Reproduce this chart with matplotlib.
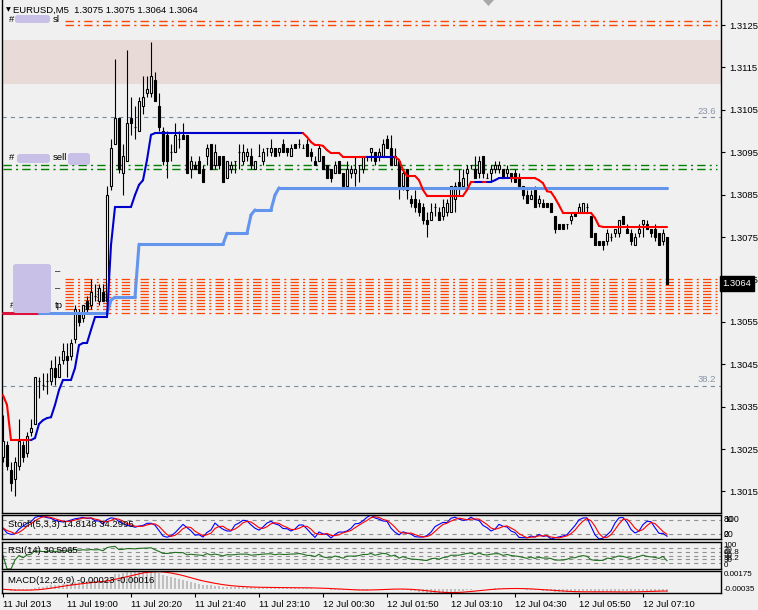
import numpy as np
import matplotlib
matplotlib.use("Agg")
import matplotlib.pyplot as plt
import matplotlib.transforms as mtransforms
from matplotlib.collections import LineCollection
from matplotlib.patches import FancyBboxPatch, Polygon

plt.rcParams['font.family'] = ['Liberation Sans', 'DejaVu Sans']
plt.rcParams['lines.scale_dashes'] = False

W, H = 758, 610
BG = '#F0F0F0'
FS = 6.8

# EURUSD M5 candles
opens = [1.3023, 1.3026, 1.3020, 1.3018, 1.3021, 1.3026, 1.3024, 1.3029, 1.3031, 1.3041,
         1.3040, 1.3041, 1.3041, 1.3044, 1.3042, 1.3046, 1.3047, 1.3047, 1.3051, 1.3057,
         1.3056, 1.3060, 1.3059, 1.3061, 1.3060, 1.3062, 1.3060, 1.3087, 1.3097, 1.3103,
         1.3090, 1.3093, 1.3103, 1.3101, 1.3100, 1.3106, 1.3109, 1.3109, 1.3112, 1.3106,
         1.3100, 1.3099, 1.3095, 1.3095, 1.3098, 1.3099, 1.3099, 1.3091, 1.3092, 1.3093,
         1.3091, 1.3094, 1.3097, 1.3092, 1.3094, 1.3094, 1.3089, 1.3091, 1.3093, 1.3095,
         1.3093, 1.3094, 1.3094, 1.3091, 1.3094, 1.3093, 1.3096, 1.3095, 1.3096, 1.3095,
         1.3097, 1.3096, 1.3094, 1.3097, 1.3097, 1.3096, 1.3097, 1.3095, 1.3093, 1.3093,
         1.3094, 1.3092, 1.3091, 1.3090, 1.3093, 1.3090, 1.3087, 1.3090, 1.3090, 1.3092,
         1.3091, 1.3094, 1.3095, 1.3095, 1.3094, 1.3094, 1.3098, 1.3096, 1.3092, 1.3093,
         1.3087, 1.3091, 1.3084, 1.3084, 1.3083, 1.3082, 1.3079, 1.3079, 1.3082, 1.3081,
         1.3080, 1.3081, 1.3081, 1.3084, 1.3088, 1.3087, 1.3090, 1.3092, 1.3091, 1.3090,
         1.3094, 1.3089, 1.3090, 1.3091, 1.3091, 1.3091, 1.3090, 1.3090, 1.3090, 1.3089,
         1.3087, 1.3085, 1.3084, 1.3086, 1.3083, 1.3083, 1.3083, 1.3083, 1.3080, 1.3078,
         1.3078, 1.3078, 1.3079, 1.3081, 1.3081, 1.3081, 1.3082, 1.3080, 1.3076, 1.3074,
         1.3074, 1.3074, 1.3075, 1.3076, 1.3076, 1.3080, 1.3077, 1.3076, 1.3073, 1.3076,
         1.3078, 1.3078, 1.3077, 1.3077, 1.3076, 1.3074, 1.3075]
highs = [1.3033, 1.3027, 1.3022, 1.3023, 1.3032, 1.3027, 1.3029, 1.3032, 1.3042, 1.3042,
         1.3043, 1.3043, 1.3046, 1.3047, 1.3047, 1.3050, 1.3050, 1.3051, 1.3059, 1.3058,
         1.3059, 1.3061, 1.3065, 1.3064, 1.3064, 1.3064, 1.3087, 1.3098, 1.3117, 1.3103,
         1.3097, 1.3119, 1.3108, 1.3106, 1.3108, 1.3113, 1.3113, 1.3121, 1.3114, 1.3109,
         1.3101, 1.3100, 1.3097, 1.3102, 1.3100, 1.3102, 1.3099, 1.3094, 1.3093, 1.3094,
         1.3092, 1.3097, 1.3097, 1.3097, 1.3094, 1.3094, 1.3093, 1.3093, 1.3093, 1.3097,
         1.3097, 1.3096, 1.3096, 1.3093, 1.3097, 1.3096, 1.3096, 1.3098, 1.3096, 1.3096,
         1.3098, 1.3096, 1.3097, 1.3097, 1.3098, 1.3097, 1.3098, 1.3096, 1.3094, 1.3097,
         1.3094, 1.3092, 1.3091, 1.3093, 1.3093, 1.3090, 1.3093, 1.3092, 1.3094, 1.3092,
         1.3094, 1.3094, 1.3096, 1.3095, 1.3096, 1.3098, 1.3099, 1.3099, 1.3096, 1.3093,
         1.3091, 1.3091, 1.3085, 1.3086, 1.3084, 1.3083, 1.3081, 1.3083, 1.3083, 1.3082,
         1.3084, 1.3084, 1.3087, 1.3088, 1.3091, 1.3091, 1.3092, 1.3092, 1.3094, 1.3094,
         1.3094, 1.3090, 1.3092, 1.3093, 1.3093, 1.3091, 1.3092, 1.3090, 1.3091, 1.3090,
         1.3087, 1.3086, 1.3086, 1.3087, 1.3085, 1.3084, 1.3083, 1.3083, 1.3080, 1.3078,
         1.3078, 1.3078, 1.3081, 1.3081, 1.3083, 1.3083, 1.3083, 1.3080, 1.3076, 1.3074,
         1.3074, 1.3077, 1.3076, 1.3077, 1.3079, 1.3080, 1.3078, 1.3077, 1.3076, 1.3078,
         1.3079, 1.3079, 1.3077, 1.3078, 1.3076, 1.3077, 1.3075]
lows = [1.3022, 1.3020, 1.3015, 1.3014, 1.3020, 1.3022, 1.3023, 1.3028, 1.3031, 1.3037,
        1.3039, 1.3038, 1.3040, 1.3040, 1.3042, 1.3045, 1.3042, 1.3046, 1.3050, 1.3054,
        1.3055, 1.3057, 1.3058, 1.3060, 1.3059, 1.3060, 1.3059, 1.3086, 1.3097, 1.3090,
        1.3085, 1.3093, 1.3099, 1.3098, 1.3100, 1.3104, 1.3108, 1.3108, 1.3107, 1.3100,
        1.3092, 1.3089, 1.3093, 1.3095, 1.3096, 1.3098, 1.3090, 1.3089, 1.3091, 1.3090,
        1.3088, 1.3092, 1.3091, 1.3091, 1.3091, 1.3088, 1.3089, 1.3090, 1.3090, 1.3091,
        1.3092, 1.3093, 1.3091, 1.3091, 1.3094, 1.3092, 1.3094, 1.3094, 1.3094, 1.3094,
        1.3095, 1.3094, 1.3094, 1.3096, 1.3096, 1.3096, 1.3094, 1.3093, 1.3092, 1.3093,
        1.3091, 1.3089, 1.3088, 1.3090, 1.3090, 1.3087, 1.3087, 1.3089, 1.3087, 1.3088,
        1.3090, 1.3093, 1.3093, 1.3092, 1.3093, 1.3094, 1.3096, 1.3092, 1.3092, 1.3084,
        1.3086, 1.3084, 1.3082, 1.3081, 1.3080, 1.3078, 1.3075, 1.3079, 1.3080, 1.3079,
        1.3079, 1.3080, 1.3081, 1.3081, 1.3085, 1.3087, 1.3087, 1.3091, 1.3089, 1.3089,
        1.3089, 1.3089, 1.3088, 1.3090, 1.3090, 1.3089, 1.3089, 1.3088, 1.3088, 1.3087,
        1.3084, 1.3083, 1.3084, 1.3082, 1.3082, 1.3082, 1.3082, 1.3081, 1.3076, 1.3077,
        1.3077, 1.3077, 1.3078, 1.3080, 1.3081, 1.3081, 1.3081, 1.3075, 1.3073, 1.3073,
        1.3072, 1.3073, 1.3074, 1.3075, 1.3075, 1.3078, 1.3076, 1.3073, 1.3073, 1.3075,
        1.3075, 1.3077, 1.3075, 1.3074, 1.3073, 1.3073, 1.3064]
closes = [1.3027, 1.3021, 1.3017, 1.3022, 1.3027, 1.3023, 1.3028, 1.3030, 1.3042, 1.3041,
          1.3040, 1.3041, 1.3044, 1.3042, 1.3045, 1.3048, 1.3046, 1.3050, 1.3058, 1.3055,
          1.3059, 1.3058, 1.3062, 1.3061, 1.3063, 1.3060, 1.3085, 1.3096, 1.3103, 1.3091,
          1.3094, 1.3102, 1.3102, 1.3101, 1.3107, 1.3108, 1.3110, 1.3113, 1.3107, 1.3101,
          1.3093, 1.3093, 1.3095, 1.3099, 1.3098, 1.3098, 1.3090, 1.3093, 1.3091, 1.3090,
          1.3088, 1.3096, 1.3091, 1.3095, 1.3092, 1.3088, 1.3093, 1.3092, 1.3093, 1.3095,
          1.3095, 1.3095, 1.3092, 1.3093, 1.3094, 1.3095, 1.3096, 1.3096, 1.3094, 1.3096,
          1.3095, 1.3095, 1.3096, 1.3096, 1.3097, 1.3096, 1.3094, 1.3094, 1.3092, 1.3096,
          1.3091, 1.3089, 1.3089, 1.3092, 1.3090, 1.3087, 1.3091, 1.3091, 1.3091, 1.3092,
          1.3094, 1.3094, 1.3096, 1.3093, 1.3095, 1.3097, 1.3096, 1.3092, 1.3094, 1.3087,
          1.3090, 1.3086, 1.3083, 1.3082, 1.3081, 1.3079, 1.3078, 1.3081, 1.3082, 1.3079,
          1.3082, 1.3083, 1.3087, 1.3087, 1.3087, 1.3089, 1.3091, 1.3092, 1.3089, 1.3093,
          1.3090, 1.3089, 1.3091, 1.3092, 1.3092, 1.3089, 1.3091, 1.3089, 1.3088, 1.3087,
          1.3085, 1.3083, 1.3085, 1.3082, 1.3084, 1.3082, 1.3082, 1.3081, 1.3077, 1.3077,
          1.3077, 1.3078, 1.3080, 1.3080, 1.3082, 1.3083, 1.3082, 1.3075, 1.3073, 1.3073,
          1.3073, 1.3076, 1.3075, 1.3077, 1.3079, 1.3078, 1.3076, 1.3074, 1.3075, 1.3077,
          1.3079, 1.3077, 1.3076, 1.3075, 1.3073, 1.3076, 1.3064]

# trailing-stop line (red above price, blue below) and the light blue step line
trail = ([1.30377, 1.30354] + [1.30271] * 6
         + [1.30276, 1.30309, 1.30318, 1.30323, 1.30325, 1.30354, 1.30389, 1.30413,
            1.30413, 1.30413, 1.30441, 1.30495, 1.30500, 1.30500, 1.30531]
         + [1.30561] * 4 + [1.30731] + [1.30821] * 5
         + [1.30849, 1.30873, 1.30884, 1.30932, 1.30991] + [1.30995] * 38
         + [1.30986, 1.30974, 1.30967, 1.30967, 1.30965, 1.30955, 1.30948, 1.30948, 1.30948]
         + [1.30939] * 14 + [1.30932, 1.30908] + [1.30894] * 3 + [1.30884, 1.30861]
         + [1.30847] * 10 + [1.30861] + [1.30880] * 6 + [1.30884] + [1.30889] * 10
         + [1.30884, 1.30877, 1.30858, 1.30856, 1.30842, 1.30825] + [1.30807] * 8
         + [1.30795, 1.30776] + [1.30774] * 17)
trail_dir = (['dn'] * 7 + ['up'] * 68 + ['dn'] * 16 + ['up'] * 7 + ['dn'] * 20
             + ['up'] * 2 + ['dn'] * 1 + ['up'] * 6 + ['dn'] * 39)
level = ([1.30571] * 27 + [1.30601] + [1.30608] * 6 + [1.30733] * 22 + [1.30759] * 6
         + [1.30802] + [1.30814] * 5 + [1.30849] + [1.30866] * 98)

sl_levels = [1.31260, 1.31250]
sell_levels = [1.30920, 1.30910]
tp_levels = [1.30651, 1.30644, 1.30637, 1.30630, 1.30623, 1.30616,
             1.30609, 1.30601, 1.30594, 1.30587, 1.30580, 1.30571]
zone = (1.31111, 1.31215)
fib_levels = [(1.31032, '23.6'), (1.30399, '38.2')]
price_ticks = [1.3015, 1.3025, 1.3035, 1.3045, 1.3055, 1.3065,
               1.3075, 1.3085, 1.3095, 1.3105, 1.3115, 1.3125]
time_bars = [0, 16, 32, 48, 64, 80, 96, 112, 128, 144, 160]
time_labels = ['11 Jul 2013', '11 Jul 19:00', '11 Jul 20:20', '11 Jul 21:40',
               '11 Jul 23:10', '12 Jul 00:30', '12 Jul 01:50', '12 Jul 03:10',
               '12 Jul 04:30', '12 Jul 05:50', '12 Jul 07:10']
rsi_levels = [76.4, 61.8, 50, 38.2, 23.6]
rsi_labels = [100, 70, 61.8, 50, 38.2, 30, 0]

o, h, l, c = (np.array(v) for v in (opens, highs, lows, closes))
n = len(c)
x = np.arange(n)

# indicators from the candles
hh = np.array([h[max(0, i - 4):i + 1].max() for i in range(n)])
ll = np.array([l[max(0, i - 4):i + 1].min() for i in range(n)])
num, den = c - ll, hh - ll
stoch_k = np.array([100 * num[max(0, i - 2):i + 1].sum() / max(den[max(0, i - 2):i + 1].sum(), 1e-9)
                    for i in range(n)])
stoch_d = np.array([stoch_k[max(0, i - 2):i + 1].mean() for i in range(n)])

diff = np.diff(c, prepend=c[0])
gain, loss = np.clip(diff, 0, None), np.clip(-diff, 0, None)
ag, al = np.zeros(n), np.zeros(n)
for i in range(1, n):
    if i < 14:
        ag[i], al[i] = gain[1:i + 1].mean(), loss[1:i + 1].mean()
    else:
        ag[i] = (ag[i - 1] * 13 + gain[i]) / 14
        al[i] = (al[i - 1] * 13 + loss[i]) / 14
rsi = np.where(al > 0, 100 - 100 / (1 + ag / np.maximum(al, 1e-12)), 50.0)
rsi[0] = 50.0


def ema(v, p):
    a = 2 / (p + 1)
    out = np.empty_like(v)
    out[0] = v[0]
    for i in range(1, len(v)):
        out[i] = a * v[i] + (1 - a) * out[i - 1]
    return out


macd = ema(c, 12) - ema(c, 26)
macd_sig = np.array([macd[max(0, i - 8):i + 1].mean() for i in range(n)])

fig = plt.figure(figsize=(W / 100, H / 100), dpi=100, facecolor=BG)


def panel(top, bottom, left=2, right=721):
    ax = fig.add_axes([left / W, 1 - bottom / H, (right - left) / W, (bottom - top) / H])
    ax.set_facecolor(BG)
    ax.set_xlim(-0.25, 179.5)
    for s in ax.spines.values():
        s.set_linewidth(1.0)
        s.set_color('black')
    ax.tick_params(left=False, labelleft=False, bottom=False, labelbottom=False)
    return ax


def fig_text(px, py, s, **kw):
    kw.setdefault('fontsize', FS)
    kw.setdefault('va', 'center')
    fig.text(px / W, 1 - py / H, s, **kw)


def blob(x0, y0, x1, y1):
    fig.patches.append(FancyBboxPatch((x0 / W, 1 - y1 / H), (x1 - x0) / W, (y1 - y0) / H,
                                      boxstyle='round,pad=0,rounding_size=0.004',
                                      transform=fig.transFigure, fc='#C8C0E6', ec='none',
                                      zorder=20))


def side_labels(axp, items, fs=6.3):
    tr = mtransforms.blended_transform_factory(axp.transAxes, axp.transData)
    for val, txt, va in items:
        axp.text(1.004, val, txt, transform=tr, fontsize=fs, va=va, clip_on=False)


# ---- main price panel
ax = panel(0, 513)
ax.set_ylim(1.300991, 1.313090)
ax.spines['top'].set_visible(False)
right = mtransforms.blended_transform_factory(ax.transAxes, ax.transData)

ax.axhspan(*zone, color='#E8DAD6', lw=0, zorder=0)
for lv, name in fib_levels:
    ax.axhline(lv, color='#778899', lw=0.8, ls=(0, (3, 3)), zorder=1)
    ax.text(0.993, lv + 0.00004, name, transform=right, ha='right', va='bottom',
            fontsize=FS, color='#8795A8')
dashdot = [(0, (6, 3, 1.5, 3))]
ax.hlines(sl_levels, 15.5, 178.5, colors='#FF4500', lw=1.0, linestyles=dashdot, zorder=1)
ax.hlines(sell_levels, 0, 178.5, colors='#008000', lw=1.0, linestyles=dashdot, zorder=1)
ax.hlines(tp_levels, 15.5, 178.5, colors='#FF4500', lw=0.9, linestyles=dashdot, zorder=1)

# candles
up = c >= o
ax.vlines(x, l, h, color='black', lw=0.8, zorder=3)
body_lo, body_h = np.minimum(o, c), np.abs(c - o)
ax.bar(x[up], body_h[up], bottom=body_lo[up], width=0.5, color='white',
       edgecolor='black', lw=0.8, zorder=4)
ax.bar(x[~up], body_h[~up], bottom=body_lo[~up], width=0.5, color='black',
       edgecolor='black', lw=0.8, zorder=4)

# indicator lines
pts = np.column_stack([x, level])
segs = np.stack([pts[:-1], pts[1:]], axis=1)
cols = ['#DC143C'] * 9 + ['#6495ED'] * (n - 10)
ax.add_collection(LineCollection(segs, colors=cols, linewidths=2.2, zorder=5, capstyle='round'))
pts = np.column_stack([x, trail])
segs = np.stack([pts[:-1], pts[1:]], axis=1)
cols = ['#0000CD' if d == 'up' else '#FF0000' for d in trail_dir]
ax.add_collection(LineCollection(segs, colors=cols, linewidths=1.5, zorder=6, capstyle='round'))

ax.yaxis.tick_right()
ax.set_yticks(price_ticks)
ax.set_yticklabels([f'{p:.4f}' for p in price_ticks])
ax.tick_params(axis='y', right=True, labelright=True, length=3, width=0.8, pad=3,
               labelsize=FS, colors='black')
ax.text(1.002, c[-1], f'{c[-1]:.4f}', transform=right, ha='left', va='center', color='white',
        fontsize=FS, clip_on=False, zorder=10,
        bbox=dict(boxstyle='square,pad=0.3', fc='black', ec='black'))

# header and order labels
fig_text(6, 10, '\u25bc', fontsize=4.5, family=['DejaVu Sans'])
fig_text(13, 10, 'EURUSD,M5  1.3075 1.3075 1.3064 1.3064')
fig_text(9, 20, '#')
blob(15, 15, 50, 23)
fig_text(53, 20, 'sl')
fig_text(9, 158, '#')
blob(17, 154, 50, 163)
fig_text(53, 158, 'sell')
blob(68, 153, 90, 165)
fig_text(55, 272, '\u2013')
fig_text(55, 289, '\u2013')
fig_text(55, 306, 'tp')
fig_text(10, 306, '#')
blob(13, 264, 51, 313)
fig.patches.append(Polygon([[483 / W, 1.0], [494 / W, 1.0], [488.5 / W, 1 - 6 / H]],
                           closed=True, transform=fig.transFigure, fc='#A8A8A8', ec='none'))

# ---- stochastic
axs = panel(515, 539)
axs.set_ylim(0, 100)
for lv in (80, 20):
    axs.axhline(lv, color='#909090', lw=0.8, ls=(0, (3, 3)))
axs.plot(x, stoch_k, color='#0000FF', lw=0.8)
axs.plot(x, stoch_d, color='#FF0000', lw=0.8)
axs.text(1.25, 60, 'Stoch(5,3,3) 14.8148 34.2995', fontsize=FS, va='center')
side_labels(axs, [(100, '100', 'top'), (80, '80', 'center'),
                  (20, '20', 'center'), (0, '0', 'bottom')])

# ---- RSI
axr = panel(542, 569)
axr.set_ylim(0, 100)
for lv in rsi_levels:
    axr.axhline(lv, color='#909090', lw=0.8, ls=(0, (3, 3)))
axr.plot(x, rsi, color='#207020', lw=0.8)
axr.text(1.25, 70, 'RSI(14) 30.5065', fontsize=FS, va='center')
side_labels(axr, [(v, f'{v:g}', 'top' if v == 100 else 'bottom' if v == 0 else 'center')
                  for v in rsi_labels], fs=5.8)

# ---- MACD
axm = panel(571, 593)
lo_m, hi_m = min(macd.min(), macd_sig.min()), max(macd.max(), macd_sig.max())
axm.set_ylim(lo_m, hi_m)
axm.bar(x, macd, width=0.6, color='#C0C0C0', lw=0)
axm.plot(x, macd_sig, color='#FF0000', lw=0.8)
axm.text(1.25, lo_m + 0.55 * (hi_m - lo_m), 'MACD(12,26,9) -0.00023 -0.00016',
         fontsize=FS, va='center')
side_labels(axm, [(hi_m, f'{hi_m:.5f}', 'top'), (lo_m, f'{lo_m:.5f}', 'bottom')], fs=5.8)

axm.set_xticks(time_bars)
axm.set_xticklabels(time_labels)
axm.tick_params(axis='x', bottom=True, labelbottom=True, length=3, width=0.8, pad=2,
                labelsize=FS, colors='black')
for lab in axm.get_xticklabels():
    lab.set_horizontalalignment('left')

fig.savefig('out.png', dpi=100, facecolor=BG)
